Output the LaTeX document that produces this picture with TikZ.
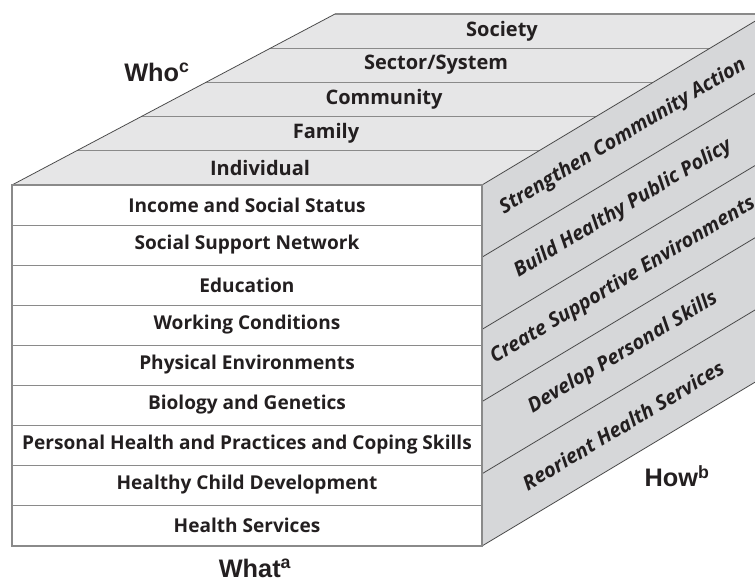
\documentclass[tikz,border=0pt]{standalone}
\usepackage{fontspec}
\setmainfont{Open Sans}
\newfontfamily\axisfont{Liberation Sans}
\usepackage{tikz}
\usetikzlibrary{positioning}

\definecolor{topgray}{HTML}{E6E6E7}
\definecolor{sidegray}{HTML}{D6D7D9}
\definecolor{edgegray}{HTML}{8A8A8A}
\definecolor{inkgray}{HTML}{231F20}

\begin{document}
\begin{tikzpicture}[x=0.75pt, y=-0.75pt]
		\tikzstyle{Front}	= [font=\bfseries\fontsize{14.3}{16}\selectfont, text=inkgray]
		\tikzstyle{Top}		= [font=\bfseries\fontsize{15}{17}\selectfont, text=inkgray]
		\tikzstyle{Side}	= [font=\bfseries\itshape\fontsize{15}{17}\selectfont, text=inkgray, rotate=31]
		\tikzstyle{Axis}	= [font=\axisfont\bfseries\fontsize{19}{21}\selectfont, text=inkgray]
		\tikzstyle{Row}		= [edgegray, line width=0.8pt]
		\tikzstyle{Slant}	= [black!70, line width=0.6pt]

		\clip (0, 0) rectangle (755, 581);

		% corners of the cube
		\coordinate (fl) at (12, 185);
		\coordinate (fr) at (482, 185);
		\coordinate (bl) at (12, 546);
		\coordinate (br) at (482, 546);
		\coordinate (tl) at (335, 14);
		\coordinate (tr) at (767, 14);
		\coordinate (rb) at (767, 375);

		% faces
		\fill[topgray] (fl) -- (tl) -- (tr) -- (fr) -- cycle;
		\fill[sidegray] (fr) -- (tr) -- (rb) -- (br) -- cycle;
		\fill[white] (fl) rectangle (br);

		% top face strips
		\coordinate (t1l) at (76.6, 150.8);	\coordinate (t1r) at (539, 150.8);
		\coordinate (t2l) at (141.2, 116.6);	\coordinate (t2r) at (596, 116.6);
		\coordinate (t3l) at (205.8, 82.4);	\coordinate (t3r) at (653, 82.4);
		\coordinate (t4l) at (270.4, 48.2);	\coordinate (t4r) at (710, 48.2);
		\draw (t1l) -- (t1r) [Row];
		\draw (t2l) -- (t2r) [Row];
		\draw (t3l) -- (t3r) [Row];
		\draw (t4l) -- (t4r) [Row];
		\draw (tl) -- (tr) [Row];

		% side face strips
		\coordinate (s1f) at (482, 257.2);	\coordinate (s1b) at (767, 86.2);
		\coordinate (s2f) at (482, 329.4);	\coordinate (s2b) at (767, 158.4);
		\coordinate (s3f) at (482, 401.6);	\coordinate (s3b) at (767, 230.6);
		\coordinate (s4f) at (482, 473.8);	\coordinate (s4b) at (767, 302.8);
		\draw (s1f) -- (s1b) [Slant];
		\draw (s2f) -- (s2b) [Slant];
		\draw (s3f) -- (s3b) [Slant];
		\draw (s4f) -- (s4b) [Slant];
		\draw (fl) -- (tl) [Slant];
		\draw (fr) -- (tr) [Slant];
		\draw (br) -- (rb) [Slant];

		% front face rows
		\coordinate (r1l) at (12, 225.1);	\coordinate (r1r) at (482, 225.1);
		\coordinate (r2l) at (12, 265.2);	\coordinate (r2r) at (482, 265.2);
		\coordinate (r3l) at (12, 305.3);	\coordinate (r3r) at (482, 305.3);
		\coordinate (r4l) at (12, 345.4);	\coordinate (r4r) at (482, 345.4);
		\coordinate (r5l) at (12, 385.6);	\coordinate (r5r) at (482, 385.6);
		\coordinate (r6l) at (12, 425.7);	\coordinate (r6r) at (482, 425.7);
		\coordinate (r7l) at (12, 465.8);	\coordinate (r7r) at (482, 465.8);
		\coordinate (r8l) at (12, 505.9);	\coordinate (r8r) at (482, 505.9);
		\draw (r1l) -- (r1r) [Row];
		\draw (r2l) -- (r2r) [Row];
		\draw (r3l) -- (r3r) [Row];
		\draw (r4l) -- (r4r) [Row];
		\draw (r5l) -- (r5r) [Row];
		\draw (r6l) -- (r6r) [Row];
		\draw (r7l) -- (r7r) [Row];
		\draw (r8l) -- (r8r) [Row];
		\draw (fl) rectangle (br) [Row];

		% who
		\node (society) at (502, 31) [Top] {Society};
		\node (sector) at (436, 65) [Top] {Sector/System};
		\node (community) at (384, 99) [Top] {Community};
		\node (family) at (326, 133) [Top] {Family};
		\node (individual) at (260, 168) [Top] {Individual};

		% what
		\node (income) at (247, 205) [Front] {Income and Social Status};
		\node (support) at (247, 245) [Front] {Social Support Network};
		\node (education) at (247, 285) [Front] {Education};
		\node (working) at (247, 325) [Front] {Working Conditions};
		\node (physical) at (247, 365) [Front] {Physical Environments};
		\node (biology) at (247, 405) [Front] {Biology and Genetics};
		\node (personal) at (247, 445) [Front] {Personal Health and Practices and Coping Skills};
		\node (child) at (247, 485) [Front] {Healthy Child Development};
		\node (services) at (247, 525) [Front] {Health Services};

		% how
		\node (action) at (623, 136.5) [Side] {Strengthen Community Action};
		\node (policy) at (623, 208.7) [Side] {Build Healthy Public Policy};
		\node (environ) at (623, 280.9) [Side] {Create Supportive Environments};
		\node (skills) at (623, 353.1) [Side] {Develop Personal Skills};
		\node (reorient) at (623, 425.3) [Side] {Reorient Health Services};

		\node (who) at (157, 72) [Axis] {Who\textsuperscript{c}};
		\node (what) at (255, 568) [Axis] {What\textsuperscript{a}};
		\node (how) at (677, 476) [Axis] {How\textsuperscript{b}};
	\end{tikzpicture}
\end{document}
